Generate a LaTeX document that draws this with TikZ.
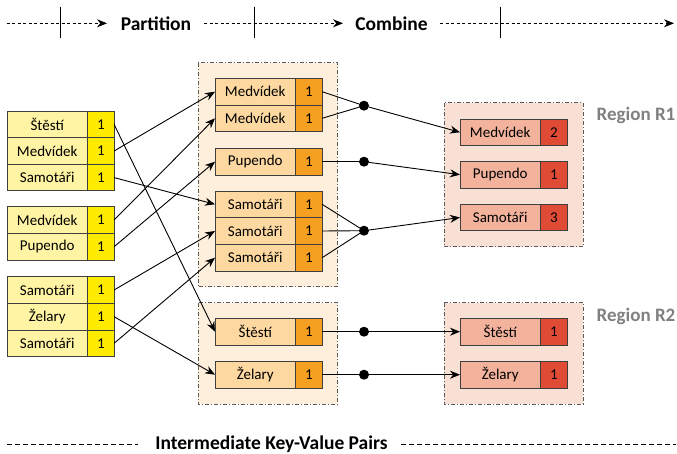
\documentclass[tikz,border=0pt]{standalone}
\usepackage{fontspec}
\setmainfont{Carlito}
\usetikzlibrary{arrows.meta}
\definecolor{bordc}{HTML}{3F3F3F}
\definecolor{ykey}{HTML}{FFF4A3}
\definecolor{yval}{HTML}{FFEB00}
\definecolor{mfill}{HTML}{FDEFDB}
\definecolor{mkey}{HTML}{FDD8A0}
\definecolor{mval}{HTML}{F5A020}
\definecolor{rfill}{HTML}{F8E0D4}
\definecolor{rkey}{HTML}{F2B29C}
\definecolor{rval}{HTML}{E04B35}
\definecolor{contc}{HTML}{5A5A5A}
\definecolor{regc}{HTML}{808080}
\tikzset{
  cell/.style={draw=bordc, line width=0.9pt, inner sep=0pt, outer sep=0pt, minimum height=26.6pt,
     font=\fontsize{15}{17}\selectfont, anchor=west, text=black},
  keyc/.style={cell, minimum width=80.5pt},
  valc/.style={cell, minimum width=26.6pt},
  container/.style={draw=contc, line width=0.9pt, dash pattern=on 4pt off 2pt on 1pt off 2pt},
  conn/.style={draw=black, line width=0.9pt},
  tipc/.style={-{Stealth[length=10pt,width=8pt]}},
  dotc/.style={circle, fill=black, inner sep=0pt, minimum size=10pt},
  regionlab/.style={text=regc, font=\fontsize{19}{21}\selectfont\bfseries},
  phase/.style={font=\fontsize{19.5}{21}\selectfont\bfseries},
  tline/.style={line width=0.9pt, dash pattern=on 3pt off 2.5pt},
}
\newcommand\kvrow[7]{%
  \node[keyc, fill=#6] (#1) at (#2,#3) {#4};
  \node[valc, fill=#7] (#1v) at (#1.east) {#5};
}
\begin{document}
\begin{tikzpicture}[x=1pt,y=-1pt]
\useasboundingbox (0,0) rectangle (677,454);
% top timeline
\coordinate (ta0) at (6.5,23.3); \coordinate (ta1) at (107,23.3);
\coordinate (tb0) at (204,23.3); \coordinate (tb1) at (343,23.3);
\coordinate (tc0) at (440,23.3); \coordinate (tc1) at (674,23.3);
\draw[tline, -{Stealth[length=10pt,width=8pt]}] (ta0) -- (ta1);
\draw[tline, -{Stealth[length=10pt,width=8pt]}] (tb0) -- (tb1);
\draw[tline, -{Stealth[length=10pt,width=8pt]}] (tc0) -- (tc1);
\coordinate (k1a) at (60.7,6.7); \coordinate (k1b) at (60.7,38.3);
\coordinate (k2a) at (254.7,6.7); \coordinate (k2b) at (254.7,38.3);
\coordinate (k3a) at (500,6.7); \coordinate (k3b) at (500,38.3);
\draw[line width=0.9pt] (k1a) -- (k1b);
\draw[line width=0.9pt] (k2a) -- (k2b);
\draw[line width=0.9pt] (k3a) -- (k3b);
\node[phase] (partition) at (156,23.3) {Partition};
\node[phase] (combine) at (391.5,23.3) {Combine};
% bottom line
\coordinate (ba0) at (7,444); \coordinate (ba1) at (138,444);
\coordinate (bb0) at (401,444); \coordinate (bb1) at (676,444);
\draw[line width=0.9pt, dash pattern=on 5pt off 3pt] (ba0) -- (ba1);
\draw[line width=0.9pt, dash pattern=on 5pt off 3pt] (bb0) -- (bb1);
\node[phase] (ikv) at (271.5,444) {Intermediate Key-Value Pairs};
% containers
\draw[container, fill=mfill] (198.3,62.7) rectangle (337.7,286.7);
\draw[container, fill=mfill] (198.3,302.7) rectangle (337.7,404);
\draw[container, fill=rfill] (444.3,102.7) rectangle (583.3,246.7);
\draw[container, fill=rfill] (444.3,302.7) rectangle (583.3,404);
\node[regionlab] (r1) at (636,115) {Region R1};
\node[regionlab] (r2) at (636,316.7) {Region R2};
% left groups
\kvrow{la}{7}{124.4}{Štěstí}{1}{ykey}{yval}
\kvrow{lb}{7}{151}{Medvídek}{1}{ykey}{yval}
\kvrow{lc}{7}{177.6}{Samotáři}{1}{ykey}{yval}
\kvrow{ld}{7}{220}{Medvídek}{1}{ykey}{yval}
\kvrow{le}{7}{246.7}{Pupendo}{1}{ykey}{yval}
\kvrow{lf}{7}{290}{Samotáři}{1}{ykey}{yval}
\kvrow{lg}{7}{316.7}{Želary}{1}{ykey}{yval}
\kvrow{lh}{7}{343.3}{Samotáři}{1}{ykey}{yval}
% middle
\kvrow{ma}{215}{91.7}{Medvídek}{1}{mkey}{mval}
\kvrow{mb}{215}{118.3}{Medvídek}{1}{mkey}{mval}
\kvrow{mc}{215}{161.7}{Pupendo}{1}{mkey}{mval}
\kvrow{md}{215}{204.3}{Samotáři}{1}{mkey}{mval}
\kvrow{me}{215}{231}{Samotáři}{1}{mkey}{mval}
\kvrow{mf}{215}{257.7}{Samotáři}{1}{mkey}{mval}
\kvrow{mg}{215}{331.7}{Štěstí}{1}{mkey}{mval}
\kvrow{mh}{215}{374.7}{Želary}{1}{mkey}{mval}
% right
\kvrow{ra}{460}{132.3}{Medvídek}{2}{rkey}{rval}
\kvrow{rb}{460}{174.7}{Pupendo}{1}{rkey}{rval}
\kvrow{rc}{460}{217.5}{Samotáři}{3}{rkey}{rval}
\kvrow{rd}{460}{331.7}{Štěstí}{1}{rkey}{rval}
\kvrow{re}{460}{374.7}{Želary}{1}{rkey}{rval}
% partition arrows
\draw[conn,tipc] (lav.east) -- (mg.west);
\draw[conn,tipc] (lbv.east) -- (ma.west);
\draw[conn,tipc] (lcv.east) -- (md.west);
\draw[conn,tipc] (ldv.east) -- (mb.west);
\draw[conn,tipc] (lev.east) -- (mc.west);
\draw[conn,tipc] (lfv.east) -- (me.west);
\draw[conn,tipc] (lgv.east) -- (mh.west);
\draw[conn,tipc] (lhv.east) -- (mf.west);
% combine dots
\node[dotc] (d1) at (364,105.7) {};
\node[dotc] (d2) at (364,161.7) {};
\node[dotc] (d3) at (364,230.7) {};
\node[dotc] (d4) at (364,331.7) {};
\node[dotc] (d5) at (364,374.7) {};
\draw[conn] (mav.east) -- (d1.center);
\draw[conn] (mbv.east) -- (d1.center);
\draw[conn] (mcv.east) -- (d2.center);
\draw[conn] (mdv.east) -- (d3.center);
\draw[conn] (mev.east) -- (d3.center);
\draw[conn] (mfv.east) -- (d3.center);
\draw[conn] (mgv.east) -- (d4.center);
\draw[conn] (mhv.east) -- (d5.center);
\draw[conn,tipc] (d1) -- (ra.west);
\draw[conn,tipc] (d2) -- (rb.west);
\draw[conn,tipc] (d3) -- (rc.west);
\draw[conn,tipc] (d4) -- (rd.west);
\draw[conn,tipc] (d5) -- (re.west);
\end{tikzpicture}
\end{document}
